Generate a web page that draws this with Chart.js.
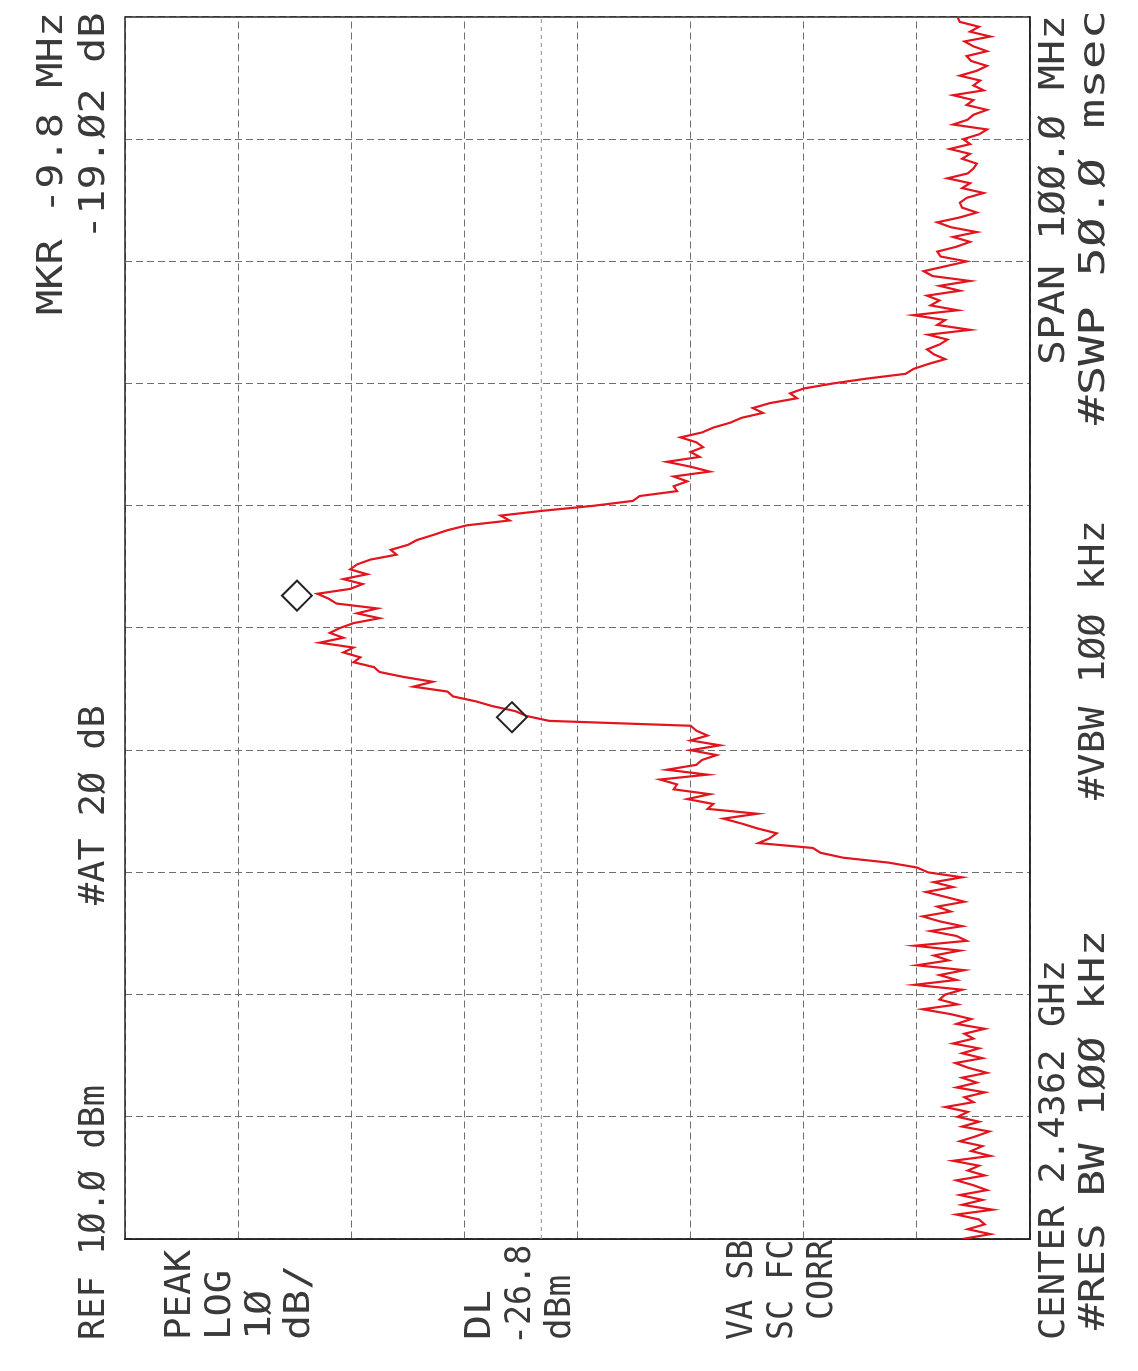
<!DOCTYPE html>
<html lang="en">
<head>
<meta charset="UTF-8">
<title>Spectrum analyzer plot</title>
<script src="https://cdn.jsdelivr.net/npm/chart.js@4.4.1/dist/chart.umd.min.js"></script>
<style>
  html, body { margin: 0; padding: 0; background: #fff; overflow: hidden; }
  body { width: 1138px; height: 1371px; position: relative; }
  /* the plot is printed sideways: draw it upright, then turn the sheet */
  #sheet {
    position: absolute; left: 0; top: 0;
    width: 1371px; height: 1138px;
    transform-origin: 0 0;
    transform: rotate(-90deg) translate(-1371px, 0);
  }
  #sheet canvas { position: absolute; left: 0; top: 0; }
  .lbl {
    position: absolute;
    font-family: 'DejaVu Sans Mono', monospace;
    font-size: 35px; line-height: 35px;
    color: #3a3a3a; white-space: pre;
    transform-origin: 0 50%;
  }
</style>
</head>
<body>
<div id="sheet">
  <canvas id="plot" width="1371" height="1138"></canvas>
</div>
<script>
// sweep: 251 points, -50 .. +50 MHz around centre
const sweepStart = -50;
const sweepStep = 0.4;

// trace levels in dBm
const lowerNoise = [
  -64.0, -66.5, -64.5, -66.0, -65.5, -63.5, -66.7, -64.0, -65.8, -63.8,
  -66.2, -65.0, -63.5, -66.0, -64.5, -65.5, -63.2, -66.5, -64.8, -65.8,
  -63.8, -65.2, -66.4, -64.0, -65.5, -63.6, -64.5, -62.5, -65.0, -64.2,
  -66.0, -63.5, -65.3, -64.0, -66.2, -64.6, -63.4, -65.8, -64.0, -65.5,
  -63.2, -65.0, -64.2, -66.0, -63.5, -64.8, -63.0, -60.5, -63.6, -62.0
];
const lowerSkirt = [
  -62.5, -64.0, -59.8, -63.5, -62.0, -64.2, -60.0, -62.8, -61.5, -63.8,
  -59.8, -64.4, -63.5, -61.2, -64.0, -62.0, -60.5, -63.0, -61.8, -64.2,
  -62.5, -60.8, -63.2, -61.5, -64.0, -61.0
];
const mainLobe = [
  -60.0, -57.5, -53.5, -51.5, -50.8, -46.0, -47.0, -47.6, -45.9, -44.5,
  -42.9, -45.9, -41.5, -42.0, -39.7, -41.7, -38.5, -38.8, -37.3, -41.5,
  -37.9, -40.5, -41.0, -42.3, -40.0, -42.6, -40.0, -41.5, -40.5, -40.0,
  -27.5, -25.5, -24.5, -22.5, -21.0, -19.0, -18.5, -15.5, -17.2, -14.6,
  -12.5, -12.0, -10.2, -10.8, -9.3, -10.2, -7.2, -9.3, -8.1, -9.0,
  -10.2, -12.5, -10.5, -12.3, -8.7, -8.0, -7.0, -9.9, -11.0, -9.3,
  -11.4, -9.9, -10.5, -11.7, -14.0, -13.5, -15.0, -15.8, -17.2, -18.5,
  -20.2, -24.0, -23.2, -27.0, -31.4, -34.9, -35.5, -38.8, -38.5, -39.7,
  -38.5, -41.7, -40.0, -37.9, -40.8, -40.0, -41.1, -40.5, -39.1, -41.0,
  -42.0, -43.5, -44.5, -46.4, -45.5, -47.0, -49.4, -48.8, -50.0, -52.5,
  -55.5, -59.0, -59.7
];
const upperNoise = [
  -61.0, -62.5, -61.5, -60.9, -62.0, -62.7, -61.0, -64.7, -61.8, -62.5,
  -59.7, -63.6, -61.2, -62.0, -60.9, -63.8, -62.0, -64.7, -61.4, -60.6,
  -62.5, -64.4, -62.1, -61.8, -63.5, -64.7, -63.2, -65.3, -63.0, -61.8,
  -63.8, -65.3, -64.0, -63.8, -64.4, -65.9, -64.0, -64.7, -62.7, -64.5,
  -65.0, -65.3, -64.0, -64.7, -62.9, -64.7, -64.1, -65.5, -66.2, -63.2,
  -64.5, -65.0, -66.2, -64.4, -65.0, -63.2, -65.9, -65.0, -65.6, -63.8,
  -65.3, -66.2, -64.8, -64.4, -66.2, -65.0, -64.2, -66.5, -64.7, -65.5,
  -63.8, -63.6
];

// the two diamonds (marker and delta reference)
const markerFreqs = [2.65, -7.3];
const markerLevels = [-5.2, -24.2];

// display line
const displayLine = -26.8;

// screen annotations: text, start, end (along the sheet), line centre
const labelLines = [
  ['MKR -9.8 MHz', 1056, 1359, 50],
  ['REF 1Ø.Ø dBm', 31, 286, 92],
  ['#AT 2Ø dB', 466, 666, 92],
  ['-19.Ø2 dB', 1131, 1359, 92],
  ['PEAK', 31, 121, 178],
  ['LOG', 31, 101, 218],
  ['1Ø', 31, 81, 258],
  ['dB/', 31, 106, 297],
  ['DL', 31, 81, 478],
  ['-26.8', 26, 126, 518],
  ['dBm', 31, 96, 558],
  ['VA SB', 31, 131, 740],
  ['SC FC', 31, 131, 780],
  [' CORR', 31, 131, 820],
  ['CENTER 2.4362 GHz', 31, 411, 1052],
  ['#RES BW 1ØØ kHz', 41, 441, 1092],
  ['#VBW 1ØØ kHz', 571, 851, 1092],
  ['SPAN 1ØØ.Ø MHz', 1006, 1356, 1052],
  ['#SWP 5Ø.Ø msec', 946, 1361, 1092]
];

const sheet = document.getElementById('sheet');
labelLines.forEach(([text, start, end, mid]) => {
  const d = document.createElement('div');
  d.className = 'lbl';
  d.textContent = text;
  d.style.left = start + 'px';
  d.style.top = (mid - 17) + 'px';
  sheet.appendChild(d);
  d.style.transform = 'scaleX(' + ((end - start) / d.offsetWidth).toFixed(3) + ')';
});

const traceLevels = [].concat(lowerNoise, lowerSkirt, mainLobe, upperNoise);
const tracePoints = traceLevels.map((v, i) => ({ x: sweepStart + i * sweepStep, y: v }));
const markerPoints = markerFreqs.map((f, i) => ({ x: f, y: markerLevels[i] }));

// solid frame round the graticule
const frame = {
  id: 'frame',
  beforeDatasetsDraw(chart) {
    const { ctx, chartArea: a } = chart;
    ctx.save();
    ctx.strokeStyle = '#262626';
    ctx.lineWidth = 1.5;
    ctx.strokeRect(a.left, a.top, a.right - a.left, a.bottom - a.top);
    ctx.restore();
  }
};

const gridOpts = { color: '#707070', lineWidth: 1, drawTicks: false };
const borderOpts = { display: true, color: '#262626', width: 1.5, dash: [7, 4] };

new Chart(document.getElementById('plot').getContext('2d'), {
  type: 'line',
  data: {
    datasets: [
      {
        data: tracePoints,
        borderColor: '#e3141d',
        borderWidth: 2.2,
        pointRadius: 0,
        tension: 0,
        order: 1
      },
      {
        data: [{ x: sweepStart, y: displayLine }, { x: -sweepStart, y: displayLine }],
        borderColor: '#8c8c8c',
        borderWidth: 1,
        borderDash: [4, 4],
        pointRadius: 0,
        order: 3
      },
      {
        type: 'scatter',
        data: markerPoints,
        pointStyle: 'rectRot',
        pointRadius: 15,
        pointBorderColor: '#222',
        pointBackgroundColor: 'rgba(255,255,255,0)',
        pointBorderWidth: 2,
        order: 0
      }
    ]
  },
  options: {
    responsive: false,
    animation: false,
    devicePixelRatio: 1,
    layout: { padding: { left: 132, right: 7, top: 125, bottom: 108 } },
    plugins: { legend: { display: false }, tooltip: { enabled: false } },
    scales: {
      x: {
        type: 'linear', min: -50, max: 50,
        ticks: { display: false, stepSize: 10 },
        grid: gridOpts, border: borderOpts
      },
      y: {
        type: 'linear', min: -70, max: 10,
        ticks: { display: false, stepSize: 10 },
        grid: gridOpts, border: borderOpts
      }
    }
  },
  plugins: [frame]
});
</script>
</body>
</html>
